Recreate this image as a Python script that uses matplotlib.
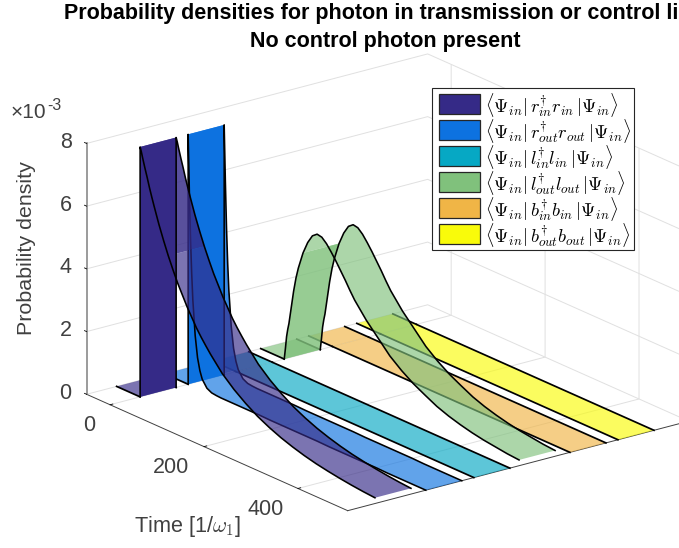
import numpy as np
import matplotlib
matplotlib.use('Agg')
import matplotlib.pyplot as plt
from matplotlib.patches import Rectangle
from mpl_toolkits.mplot3d import proj3d
from mpl_toolkits.mplot3d.art3d import Poly3DCollection

plt.rcParams['font.family'] = ['Liberation Sans', 'DejaVu Sans']
plt.rcParams['mathtext.fontset'] = 'cm'

# tiempo y densidades (en unidades de 1e-3)
tiempo = [-50, 0, 0, 2.5, 5, 7.5, 10, 15, 20, 25, 30, 40, 50, 60, 70, 80, 90, 100, 110, 120, 130, 140,
          150, 175, 200, 225, 250, 275, 300, 325, 350, 375, 400, 425, 450, 475, 500]
t_final = [500, 506, 506, 500, 506, 506]
r_in = [0, 0, 7.97, 7.84, 7.68, 7.53, 7.38, 7.1, 6.8, 6.53, 6.27, 5.77, 5.32, 4.9, 4.52, 4.16, 3.85, 3.54, 3.27,
        3.0, 2.77, 2.56, 2.36, 1.91, 1.57, 1.29, 1.05, 0.86, 0.7, 0.57, 0.46, 0.37, 0.3, 0.24, 0.19, 0.15, 0.12]
r_out = [0, 0, 7.97, 6.2, 4.7, 3.6, 2.75, 1.65, 0.98, 0.6, 0.36, 0.14, 0.06, 0.04, 0.03, 0.03, 0.03, 0.03, 0.03,
         0.03, 0.03, 0.03, 0.03, 0.02, 0.02, 0.02, 0.02, 0.02, 0.01, 0.01, 0.01, 0.01, 0.01, 0, 0, 0, 0]
l_in = [0] * 37
l_out = [0, 0, 0, 0.35, 0.75, 1.0, 1.2, 1.75, 2.3, 2.75, 3.1, 3.65, 4.05, 4.33, 4.45, 4.42, 4.28, 4.08, 3.86,
         3.62, 3.38, 3.12, 2.88, 2.4, 2.0, 1.6, 1.3, 1.05, 0.85, 0.66, 0.52, 0.41, 0.32, 0.25, 0.2, 0.15, 0.12]
b_in = [0] * 37
b_out = [0] * 37
series = [r_in, r_out, l_in, l_out, b_in, b_out]
colores = ['#352a87', '#0d72e0', '#06a8c4', '#80c17c', '#f0b546', '#f9fb0a']
nombres = [r'$\langle\Psi_{in}|\,r_{in}^{\dagger}r_{in}\,|\Psi_{in}\rangle$',
           r'$\langle\Psi_{in}|\,r_{out}^{\dagger}r_{out}\,|\Psi_{in}\rangle$',
           r'$\langle\Psi_{in}|\,l_{in}^{\dagger}l_{in}\,|\Psi_{in}\rangle$',
           r'$\langle\Psi_{in}|\,l_{out}^{\dagger}l_{out}\,|\Psi_{in}\rangle$',
           r'$\langle\Psi_{in}|\,b_{in}^{\dagger}b_{in}\,|\Psi_{in}\rangle$',
           r'$\langle\Psi_{in}|\,b_{out}^{\dagger}b_{out}\,|\Psi_{in}\rangle$']
ticks_t = [0, 200, 400]
ticks_z = [0, 2, 4, 6, 8]
ancho = 0.375

W, H = 679, 548
GRIS = '#404040'
fig = plt.figure(figsize=(W / 100, H / 100), dpi=100)
lado = 644
ax = fig.add_axes([57 / W, (H - 613) / H, lado / W, lado / H], projection='3d', proj_type='ortho')
ax.computed_zorder = False
ax.view_init(elev=20, azim=-127.5)
ax.set_box_aspect((430, 429, 267))
ax.set_xlim(0, 7.1)
ax.set_ylim(506, -50)
ax.set_zlim(0, 8)


def alfa_tramo(t, z, k):
    dt = t[k + 1] - t[k]
    if dt == 0:
        return 1.0
    if abs(z[k + 1] - z[k]) / dt > 0.04:
        return 0.82
    return 0.65


# rectangulo en pixeles de la figura, con y desde arriba
def caja(x0, y0, x1, y1, **kw):
    r = Rectangle((x0 / W, 1 - y1 / H), (x1 - x0) / W, (y1 - y0) / H, transform=fig.transFigure, **kw)
    fig.add_artist(r)


# cintas de atras hacia adelante
for i in range(5, -1, -1):
    t = np.array(tiempo, dtype=float)
    t[-1] = t_final[i]
    z = np.array(series[i], dtype=float)
    x0, x1 = i + 1 - ancho, i + 1 + ancho
    rgb = matplotlib.colors.to_rgb(colores[i])
    base = 4 * (6 - i)

    # juntar tramos con la misma transparencia
    k = 0
    while k < len(t) - 1:
        a = alfa_tramo(t, z, k)
        fin = k + 1
        while fin < len(t) - 1 and alfa_tramo(t, z, fin) == a:
            fin += 1
        frente = [(x0, t[j], z[j]) for j in range(k, fin + 1)]
        atras = [(x1, t[j], z[j]) for j in range(fin, k - 1, -1)]
        col = Poly3DCollection([frente + atras], facecolors=[rgb + (a,)], edgecolors='none', linewidths=0,
                               zorder=base if k == 0 else base + 1)
        ax.add_collection3d(col)
        k = fin

    plano = max(series[i]) == 0
    grosor = 1.25 if plano else 1.15
    # el borde trasero antes de t=0 queda detras del panel
    ax.plot([x1, x1], t[:2], z[:2], color='k', lw=1.25, zorder=base)
    ax.plot([x0, x0], t[:2], z[:2], color='k', lw=1.25, zorder=base + 2)
    for x in (x1, x0):
        ax.plot([x] * (len(t) - 1), t[1:], z[1:], color='k', lw=grosor, zorder=base + 2)

# ejes
ax.set_xticks([])
ax.set_yticks(ticks_t)
ax.set_zticks(ticks_z)
ax.set_yticklabels([])
ax.set_zticklabels([])
ax.zaxis._get_tickdir = lambda position: 1
for eje in (ax.xaxis, ax.yaxis, ax.zaxis):
    eje.set_pane_color((1, 1, 1, 1))
    eje.pane.set_edgecolor('none')
    eje.line.set_color(GRIS)
    eje.line.set_linewidth(0.7)
    eje._axinfo['grid'].update(color='#e0e0e0', linewidth=0.7)
    eje._axinfo['tick'].update(color=GRIS, linewidth={True: 0.6, False: 0.4}, inward_factor=0, outward_factor=0.1)
ax.zaxis.line.set_color('#808080')
ax.zaxis.line.set_linewidth(1.1)

# etiquetas de los ticks, ancladas al eje
M = ax.get_proj()
for v in ticks_z:
    px, py, _ = proj3d.proj_transform(0, -50, v, M)
    ax.annotate(str(v), xy=(px, py), xytext=(-15, 1), textcoords='offset pixels', ha='right', va='center',
                fontsize=15.5, color=GRIS, annotation_clip=False)
desplaza_t = [-21, -33, -32]
for v, dx in zip(ticks_t, desplaza_t):
    px, py, _ = proj3d.proj_transform(0, v, 0, M)
    ax.annotate(str(v), xy=(px, py), xytext=(dx, -21), textcoords='offset pixels', ha='center', va='center',
                fontsize=15.5, color=GRIS, annotation_clip=False)

# textos
fig.text(64 / W, 1 - 19 / H, 'Probability densities for photon in transmission or control line', fontsize=15.5,
         fontweight='bold', ha='left', va='baseline', color='k')
fig.text(385 / W, 1 - 47 / H, 'No control photon present', fontsize=15.5, fontweight='bold', ha='center',
         va='baseline', color='k')
fig.text(26 / W, 1 - 248 / H, 'Probability density', rotation=90, fontsize=15.4, color=GRIS, ha='center', va='center')
fig.text(188 / W, 1 - 532 / H, r'Time [1/$\omega_1$]', fontsize=15.6, color=GRIS, ha='center', va='baseline')
fig.text(11 / W, 1 - 118 / H, '×10', fontsize=15, color=GRIS, ha='left', va='baseline')
fig.text(47.5 / W, 1 - 110 / H, '-3', fontsize=11.5, color=GRIS, ha='left', va='baseline')

# leyenda
caja(432, 88, 634, 250, facecolor='white', edgecolor='#262626', linewidth=0.8, zorder=20)
for i, (c, nombre) in enumerate(zip(colores, nombres)):
    y = 94 + 26 * i
    caja(439, y, 480, y + 20, facecolor=c, edgecolor='#262626', linewidth=0.9, zorder=21)
    fig.text(485 / W, 1 - (y + 18.5) / H, nombre, fontsize=13.3, color='k', ha='left', va='baseline', zorder=21)

fig.savefig('out.png', dpi=100)
